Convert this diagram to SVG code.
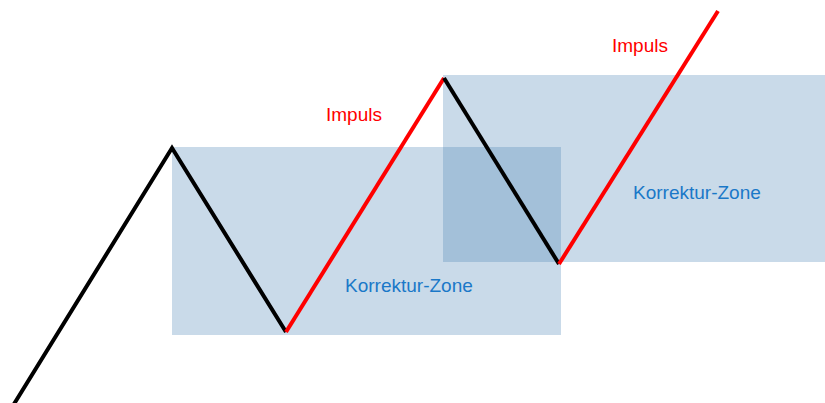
<svg xmlns="http://www.w3.org/2000/svg" width="825" height="403" viewBox="0 0 825 403">
<style>
.zone{fill:rgb(75,132,182);fill-opacity:0.3}
.down{fill:none;stroke:#000;stroke-width:4;stroke-linejoin:miter;stroke-linecap:butt}
.up{fill:none;stroke:#ff0000;stroke-width:4;stroke-linecap:butt}
.imp{font-family:"Liberation Sans",Arial,sans-serif;font-size:19px;fill:#ff0000}
.kz{font-family:"Liberation Sans",Arial,sans-serif;font-size:19px;fill:#1a78c8}
</style>
<rect width="825" height="403" fill="#fff"/>
<g id="zone1"><rect class="zone" x="172" y="147" width="389" height="188"/><text class="kz" x="345" y="292">Korrektur-Zone</text></g>
<g id="zone2"><rect class="zone" x="443" y="75" width="382" height="187"/><text class="kz" x="633" y="199">Korrektur-Zone</text></g>
<g id="connectors">
<polyline class="down" points="14,404 172,148 286,332"/>
<line class="up" x1="286" y1="332" x2="444" y2="78"/>
<polyline class="down" points="444,78 559,264"/>
<line class="up" x1="559" y1="264" x2="718" y2="11"/>
</g>
<g id="impuls1"><text class="imp" x="326" y="121">Impuls</text></g>
<g id="impuls2"><text class="imp" x="612" y="52">Impuls</text></g>
</svg>
